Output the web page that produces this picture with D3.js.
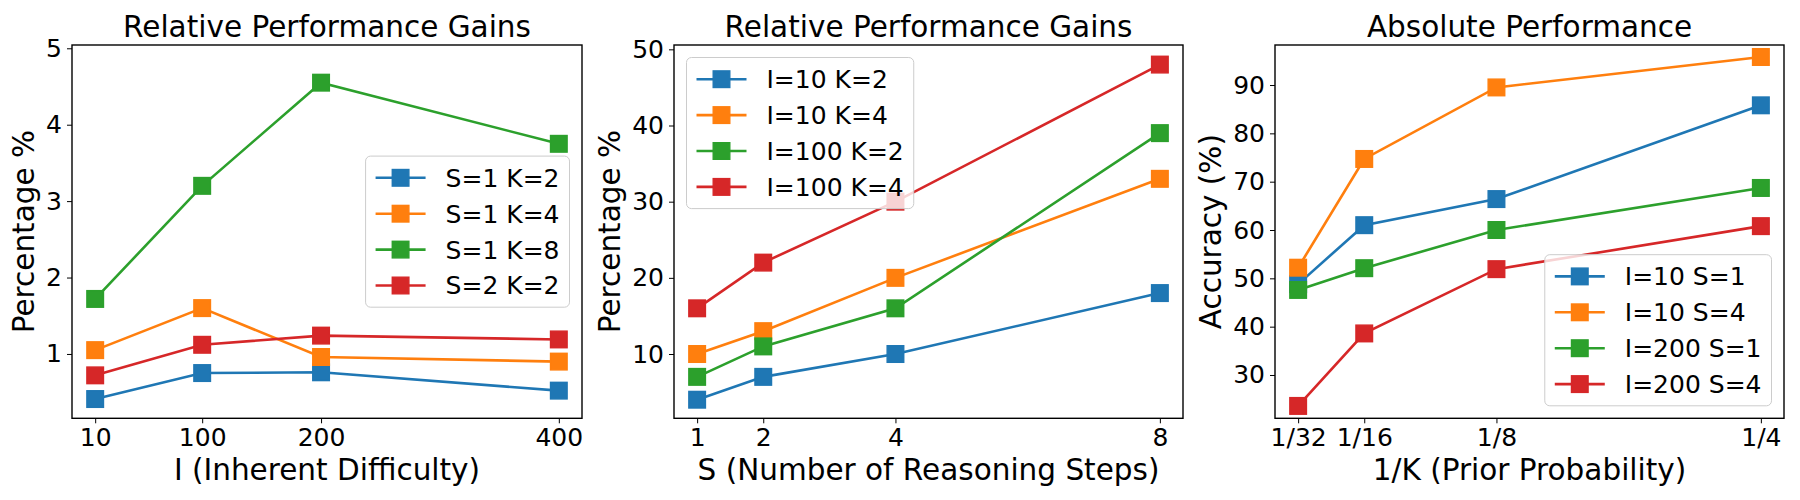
<!DOCTYPE html>
<html>
<head>
<meta charset="utf-8">
<script src="https://cdn.jsdelivr.net/npm/d3@7"></script>
<style>
  body { margin: 0; background: #fff; }
  svg { font-family: "DejaVu Sans", sans-serif; }
</style>
</head>
<body>
<div id="chart"></div>
<script>
// data
const colors = ["#1f77b4", "#ff7f0e", "#2ca02c", "#d62728"];

const difficultyX = [10, 100, 200, 400];
const difficultyNames = ["S=1 K=2", "S=1 K=4", "S=1 K=8", "S=2 K=2"];
const difficultyValues = [
    [0.41, 0.75, 0.76, 0.52],
    [1.05, 1.60, 0.96, 0.90],
    [1.72, 3.20, 4.55, 3.75],
    [0.72, 1.12, 1.24, 1.19]
];
const difficultyYTicks = [1, 2, 3, 4, 5];

const stepsX = [1, 2, 4, 8];
const stepsNames = ["I=10 K=2", "I=10 K=4", "I=100 K=2", "I=100 K=4"];
const stepsValues = [
    [4, 7, 10, 18],
    [10, 13, 20, 33],
    [7, 11, 16, 39],
    [16, 22, 30, 48]
];
const stepsYTicks = [10, 20, 30, 40, 50];

const priorX = [1 / 32, 1 / 16, 1 / 8, 1 / 4];
const priorTickLabels = ["1/32", "1/16", "1/8", "1/4"];
const priorNames = ["I=10 S=1", "I=10 S=4", "I=200 S=1", "I=200 S=4"];
const priorValues = [
    [48.8, 61.0, 66.4, 85.8],
    [52.2, 74.7, 89.5, 95.8],
    [47.6, 52.1, 60.0, 68.7],
    [23.6, 38.6, 51.9, 60.8]
];
const priorYTicks = [30, 40, 50, 60, 70, 80, 90];

const width = 1800, height = 500;
const plotTop = 45, plotBottom = 418.3;
const titleSize = 29.5, labelSize = 29.5, tickSize = 25, legendSize = 25;

const svg = d3.select("#chart").append("svg")
    .attr("width", width)
    .attr("height", height);

function drawPanel(p) {
    const x = d3.scaleLinear().domain(p.xDomain).range([p.left, p.right]);
    const y = d3.scaleLinear().domain(p.yDomain).range([plotBottom, plotTop]);
    const g = svg.append("g");

    // x axis
    const xAxis = g.append("g")
        .attr("transform", `translate(0,${plotBottom})`)
        .call(d3.axisBottom(x).tickValues(p.xTicks).tickSize(5).tickPadding(5)
            .tickFormat((d, i) => p.xTickLabels ? p.xTickLabels[i] : d));
    xAxis.select(".domain").remove();
    xAxis.selectAll(".tick line").attr("stroke", "#000").attr("stroke-width", 1);
    xAxis.selectAll(".tick text")
        .attr("font-size", tickSize)
        .attr("font-family", "DejaVu Sans")
        .attr("fill", "#000")
        .attr("dy", null)
        .attr("y", 28);

    // y axis
    const yAxis = g.append("g")
        .attr("transform", `translate(${p.left},0)`)
        .call(d3.axisLeft(y).tickValues(p.yTicks).tickSize(5).tickPadding(5)
            .tickFormat(d3.format("d")));
    yAxis.select(".domain").remove();
    yAxis.selectAll(".tick line").attr("stroke", "#000").attr("stroke-width", 1);
    yAxis.selectAll(".tick text")
        .attr("font-size", tickSize)
        .attr("font-family", "DejaVu Sans")
        .attr("fill", "#000");

    // series
    const line = d3.line().x((d, i) => x(p.xs[i])).y(d => y(d));
    p.values.forEach((vals, s) => {
        g.append("path")
            .datum(vals)
            .attr("d", line)
            .attr("fill", "none")
            .attr("stroke", colors[s])
            .attr("stroke-width", 2.6);
        g.selectAll(null)
            .data(vals)
            .enter()
            .append("rect")
            .attr("x", (d, i) => x(p.xs[i]) - 8.3)
            .attr("y", d => y(d) - 8.3)
            .attr("width", 16.6)
            .attr("height", 16.6)
            .attr("fill", colors[s])
            .attr("stroke", colors[s])
            .attr("stroke-width", 1.4);
    });

    // frame
    g.append("rect")
        .attr("x", p.left)
        .attr("y", plotTop)
        .attr("width", p.right - p.left)
        .attr("height", plotBottom - plotTop)
        .attr("fill", "none")
        .attr("stroke", "#000")
        .attr("stroke-width", 1.4);

    // title
    g.append("text")
        .attr("x", (p.left + p.right) / 2)
        .attr("y", 36.7)
        .attr("text-anchor", "middle")
        .attr("font-size", titleSize)
        .text(p.title);

    // x label
    g.append("text")
        .attr("x", (p.left + p.right) / 2)
        .attr("y", 480)
        .attr("text-anchor", "middle")
        .attr("font-size", labelSize)
        .text(p.xLabel);

    // y label, placed left of the tick labels
    const tickBox = yAxis.node().getBBox();
    const yl = p.left + tickBox.x - 5.6 - 0.236 * labelSize;
    g.append("text")
        .attr("transform", `translate(${yl},${(plotTop + plotBottom) / 2}) rotate(-90)`)
        .attr("text-anchor", "middle")
        .attr("font-size", labelSize)
        .text(p.yLabel);

    // legend
    const pad = 0.4 * legendSize, handle = 2 * legendSize, textPad = 0.8 * legendSize;
    const rowH = 23.4, spacing = 0.5 * legendSize, gap = 0.5 * legendSize;
    const leg = g.append("g");
    const box = leg.append("rect")
        .attr("fill", "#fff")
        .attr("fill-opacity", 0.8)
        .attr("stroke", "#cccccc")
        .attr("stroke-width", 1)
        .attr("rx", 5);
    let maxW = 0;
    p.names.forEach((name, s) => {
        const cy = pad + rowH / 2 + s * (rowH + spacing);
        leg.append("line")
            .attr("x1", pad).attr("x2", pad + handle)
            .attr("y1", cy).attr("y2", cy)
            .attr("stroke", colors[s])
            .attr("stroke-width", 2.6);
        leg.append("rect")
            .attr("x", pad + handle / 2 - 8.3)
            .attr("y", cy - 8.3)
            .attr("width", 16.6)
            .attr("height", 16.6)
            .attr("fill", colors[s])
            .attr("stroke", colors[s])
            .attr("stroke-width", 1.4);
        const t = leg.append("text")
            .attr("x", pad + handle + textPad)
            .attr("y", cy)
            .attr("dy", "0.36em")
            .attr("font-size", legendSize)
            .text(name);
        maxW = Math.max(maxW, t.node().getComputedTextLength());
    });
    const lw = pad + handle + textPad + maxW + pad;
    const lh = 2 * pad + p.names.length * rowH + (p.names.length - 1) * spacing;
    box.attr("width", lw).attr("height", lh);
    let lx, ly;
    if (p.legendLoc === "center right") {
        lx = p.right - gap - lw;
        ly = (plotTop + plotBottom) / 2 - lh / 2;
    } else if (p.legendLoc === "upper left") {
        lx = p.left + gap;
        ly = plotTop + gap;
    } else {
        lx = p.right - gap - lw;
        ly = plotBottom - gap - lh;
    }
    leg.attr("transform", `translate(${lx},${ly})`);
}

drawPanel({
    left: 72, right: 582,
    xs: difficultyX, xTicks: difficultyX,
    xDomain: [-9.5, 419.5], yDomain: [0.158, 5.043],
    yTicks: difficultyYTicks,
    values: difficultyValues, names: difficultyNames,
    title: "Relative Performance Gains",
    xLabel: "I (Inherent Difficulty)", yLabel: "Percentage %",
    legendLoc: "center right"
});

drawPanel({
    left: 674, right: 1183,
    xs: stepsX, xTicks: stepsX,
    xDomain: [0.65, 8.35], yDomain: [1.56, 50.57],
    yTicks: stepsYTicks,
    values: stepsValues, names: stepsNames,
    title: "Relative Performance Gains",
    xLabel: "S (Number of Reasoning Steps)", yLabel: "Percentage %",
    legendLoc: "upper left"
});

drawPanel({
    left: 1275, right: 1784,
    xs: priorX, xTicks: priorX, xTickLabels: priorTickLabels,
    xDomain: [0.0203125, 0.2609375], yDomain: [21.04, 98.28],
    yTicks: priorYTicks,
    values: priorValues, names: priorNames,
    title: "Absolute Performance",
    xLabel: "1/K (Prior Probability)", yLabel: "Accuracy (%)",
    legendLoc: "lower right"
});
</script>
</body>
</html>
